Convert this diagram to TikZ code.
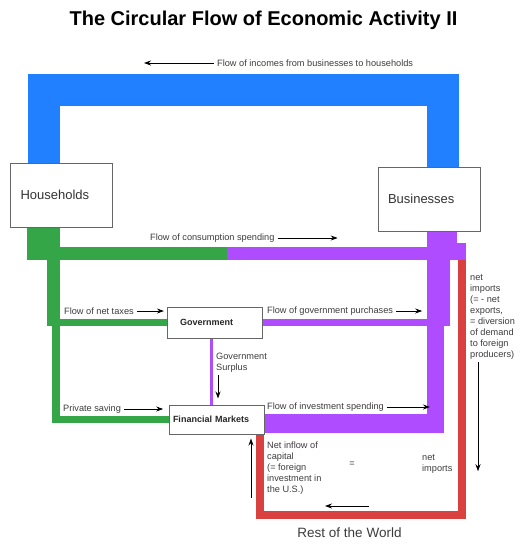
\documentclass[tikz,border=0pt]{standalone}
\usepackage{fontspec}
\setmainfont{Liberation Sans}
\usetikzlibrary{arrows.meta,backgrounds}
\definecolor{incomeblue}{RGB}{32,128,255}
\definecolor{spendgreen}{RGB}{52,166,72}
\definecolor{spendviolet}{RGB}{176,76,255}
\definecolor{worldred}{RGB}{217,64,64}
\definecolor{labelgray}{RGB}{60,60,60}
\tikzstyle{sector}=[rectangle,draw=black!60,fill=white,line width=1pt,
  			  text=black!80,font=\fontsize{13}{15}\selectfont,align=left,
  			  text width=82pt,inner xsep=10pt,minimum height=64pt]
\tikzstyle{market}=[rectangle,draw=black!60,fill=white,line width=1pt,
  			  text=black!85,font=\bfseries\fontsize{9}{11}\selectfont,align=left]
\tikzstyle{band}=[line cap=butt,line join=miter]
\tikzstyle{flowlabel}=[text=labelgray,font=\fontsize{9.2}{10.9}\selectfont,
  			  inner sep=3pt,align=left]
\tikzstyle{flowarrow}=[-{Stealth[length=7pt,width=5pt]},line width=0.9pt]

\begin{document}
\begin{tikzpicture}[x=1pt,y=-1pt]
	\useasboundingbox (0,0) rectangle (523,550);
	\node[font=\bfseries\fontsize{20}{24}\selectfont] (title) at (263.5,20) {The Circular Flow of Economic Activity II};

	\node[sector] (hh) at (61.5,195) {Households};
	\node[sector] (bus) at (429,199) {Businesses};
	\node[market,text width=69pt,inner xsep=13pt,minimum height=31pt] (gov) at (214.5,322.5) {Government};
	\node[market,text width=87pt,inner xsep=4pt,minimum height=29pt] (fin) at (216.5,419.5) {Financial Markets};

	\coordinate (blueL) at (43.5,90);
	\coordinate (blueR) at (443,90);
	\coordinate (greenC) at (43.5,260);
	\coordinate (violetC) at (442,260);

  \begin{scope}[on background layer]
	\draw[band,incomeblue,line width=32pt] (hh.north -| blueL) -- (blueL) -- (blueR) -- (bus.north -| blueR);
	\draw[band,spendgreen,line width=33pt] (hh.south -| greenC) -- (greenC);
	\draw[band,spendgreen,line width=13pt] (60,253.5) -- (228,253.5);
	\draw[band,spendviolet,line width=13pt] (227,253.5) -- (466,253.5);
	\fill[spendviolet] (457,243) rectangle (466,254);
	\draw[band,spendviolet,line width=30pt] (bus.south -| violetC) -- (violetC);
	\draw[band,spendgreen,line width=13pt] (53.5,259) -- (53.5,326);
	\draw[band,spendgreen,line width=8pt] (56,325) -- (56,423);
	\draw[band,spendgreen,line width=7pt] (gov.west -| 53,0) -- (gov.west);
	\draw[band,spendgreen,line width=7pt] (fin.west -| 52,0) -- (fin.west);
	\draw[band,spendviolet,line width=23pt] (438.5,259) -- (438.5,326);
	\draw[band,spendviolet,line width=17pt] (435.5,325) -- (435.5,433);
	\draw[band,spendviolet,line width=7pt] (gov.east) -- (gov.east -| 438,0);
	\draw[band,spendviolet,line width=19pt] ([yshift=-4pt]fin.east) -- ([yshift=-4pt]fin.east -| 444,0);
	\draw[spendviolet,line width=3pt] (gov.south -| 211,0) -- (fin.north -| 211,0);
	\draw[band,worldred,line width=8pt] (461.5,260) -- (461.5,515) -- (260,515) -- (fin.south -| 260,0);
  \end{scope}

	\node[flowlabel,anchor=west] (incomelbl) at (214,63) {Flow of incomes from businesses to households};
	\node[flowlabel,anchor=west] (conslbl) at (147,238) {Flow of consumption spending};
	\node[flowlabel,anchor=west] (taxlbl) at (61,311) {Flow of net taxes};
	\node[flowlabel,anchor=west] (purchlbl) at (264,311) {Flow of government purchases};
	\node[flowlabel,anchor=west] (savelbl) at (60,409) {Private saving};
	\node[flowlabel,anchor=west] (investlbl) at (264,407) {Flow of investment spending};
	\node[flowlabel,anchor=north west] (surplbl) at (213,349.7) {Government\\Surplus};
	\node[flowlabel,anchor=north west] (exportlbl) at (467,271.7) {net\\imports\\(= - net\\exports,\\= diversion\\of demand\\to foreign\\producers)};
	\node[flowlabel,anchor=north west] (inflowlbl) at (264,438.7) {Net inflow of\\capital\\(= foreign\\investment in\\the U.S.)};
	\node[flowlabel] (equallbl) at (352,464) {=};
	\node[flowlabel,anchor=north west] (importlbl) at (419,451.7) {net\\imports};
	\node[text=labelgray,font=\fontsize{13.5}{16}\selectfont] (world) at (349.5,533) {Rest of the World};

	\draw[flowarrow] (incomelbl.west) -- ++(-70,0);
	\draw[flowarrow] (conslbl.east) -- ++(60,0);
	\draw[flowarrow] (taxlbl.east) -- ++(27,0);
	\draw[flowarrow] (purchlbl.east) -- ++(26,0);
	\draw[flowarrow] (savelbl.east) -- ++(39,0);
	\draw[flowarrow] (investlbl.east) -- ++(43,0);
	\draw[flowarrow,shorten >=6pt] (surplbl.south -| 218,0) -- (fin.north -| 218,0);
	\draw[flowarrow] (exportlbl.south -| 478,0) -- ++(0,109);
	\draw[flowarrow] (369,506) -- (325,506);
	\draw[flowarrow,shorten >=4pt] (251,498) -- (fin.south -| 251,0);
\end{tikzpicture}
\end{document}
